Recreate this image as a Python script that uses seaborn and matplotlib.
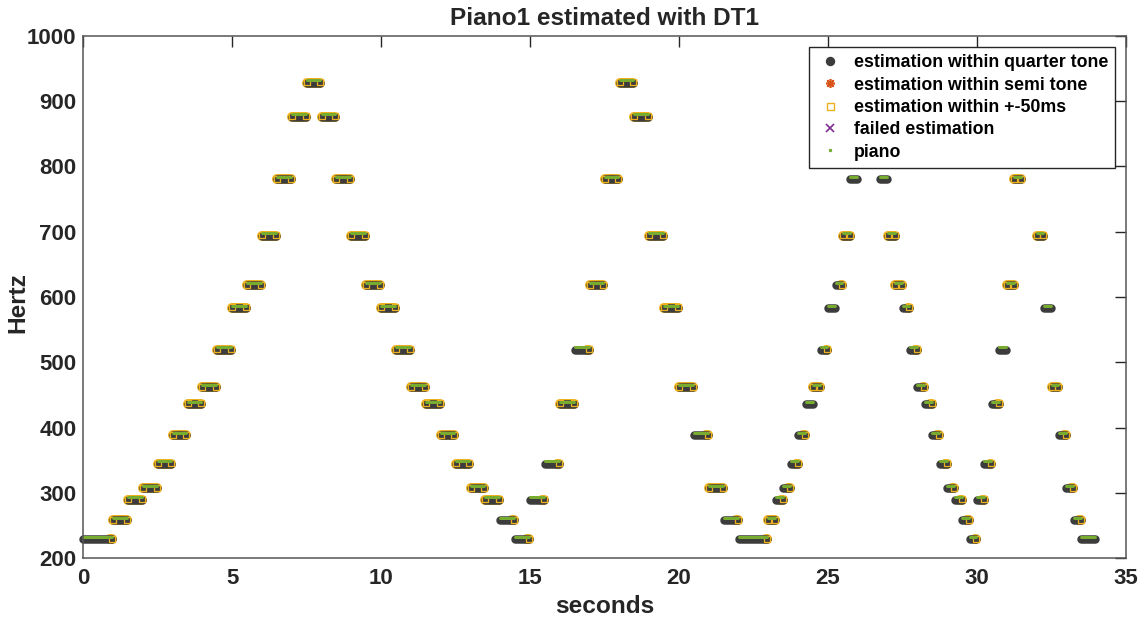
import matplotlib
matplotlib.use("Agg")
import pandas as pd
import matplotlib.pyplot as plt
from matplotlib.lines import Line2D
import seaborn as sns

# --- notes ---
# onset (s), visible length (s), piano pitch (Hz), where the +-50ms squares appear
onsets = [0.0, 1.0, 1.5, 2.0, 2.5, 3.0, 3.5, 4.0, 4.5, 5.0, 5.5, 6.0, 6.5, 7.0, 7.5,
          8.0, 8.5, 9.0, 9.5, 10.0, 10.5, 11.0, 11.5, 12.0, 12.5, 13.0, 13.5, 14.0, 14.5,
          15.0, 15.5, 16.0, 16.5, 17.0, 17.5, 18.0, 18.5, 19.0, 19.5, 20.0, 20.5, 21.0, 21.5,
          22.0,
          23.0, 23.25, 23.5, 23.75, 24.0, 24.25, 24.5, 24.75, 25.0, 25.25, 25.5, 25.75,
          26.75, 27.0, 27.25, 27.5, 27.75, 28.0, 28.25, 28.5, 28.75, 29.0, 29.25, 29.5, 29.75,
          30.0, 30.25, 30.5, 30.75, 31.0, 31.25,
          32.0, 32.25, 32.5, 32.75, 33.0, 33.25, 33.5]
lengths = [0.96] + [0.46] * 43 + [0.23] * 37 + [0.46]
lengths[43] = 0.96
piano_hz = [233, 262, 294, 311, 349, 392, 440, 466, 523, 587, 622, 698, 784, 880, 932,
            880, 784, 698, 622, 587, 523, 466, 440, 392, 349, 311, 294, 262, 233,
            294, 349, 440, 523, 622, 784, 932, 880, 698, 587, 466, 392, 311, 262,
            233,
            262, 294, 311, 349, 392, 440, 466, 523, 587, 622, 698, 784,
            784, 698, 622, 587, 523, 466, 440, 392, 349, 311, 294, 262, 233,
            294, 349, 440, 523, 622, 784,
            698, 587, 466, 392, 311, 262, 233]
window = ["end"] + ["both"] * 26 + ["end", "end",
          "end", "end", "both", "end", "both", "both", "both", "both", "both", "both", "both", "end", "both", "end",
          "end",
          "both", "end", "end", "end", "end", "none", "both", "end", "none", "end", "both", "none",
          "none", "both", "both", "end", "end", "end", "end", "end", "end", "end", "end", "end", "end",
          "end", "end", "end", "none", "both", "both",
          "both", "none", "both", "end", "end", "end", "none"]
est_offset_hz = -4.0  # estimates sit a few Hz under the piano line

legend_labels = ["estimation within quarter tone", "estimation within semi tone",
                 "estimation within +-50ms", "failed estimation", "piano"]

GRAY = "#3c3c3c"
ORANGE = "#EDB120"
RED = "#D95319"
PURPLE = "#7E2F8E"
GREEN = "#77AC30"
INK = "#262626"

rows = []
for i, (t0, d, hz, w) in enumerate(zip(onsets, lengths, piano_hz, window)):
    rows.append(dict(note=i, t=t0, hz=hz, est=hz + est_offset_hz, window=w, edge="start"))
    rows.append(dict(note=i, t=t0 + d, hz=hz, est=hz + est_offset_hz, window=w, edge="end"))
df = pd.DataFrame(rows)

sns.set_theme(style="white")
plt.rcParams["font.family"] = ["Liberation Sans", "DejaVu Sans"]
plt.rcParams["font.weight"] = "bold"

fig = plt.figure(figsize=(11.42, 6.18), dpi=100)
ax = fig.add_axes([0.0729, 0.0966, 0.9131, 0.8456])

px = 0.72  # points per pixel at 100 dpi

# orange rim from the +-50ms squares
both = df[df["window"] == "both"]
sns.lineplot(data=both, x="t", y="est", units="note", estimator=None, sort=False,
             color=ORANGE, linewidth=10 * px, solid_capstyle="round", legend=False,
             ax=ax, zorder=2, clip_on=False)
tail = df[df["window"] == "end"].copy()
tail_start = tail[tail["edge"] == "end"].copy()
tail_start["t"] = tail_start["t"] - 0.06
tail = pd.concat([tail_start, tail[tail["edge"] == "end"]])
sns.lineplot(data=tail, x="t", y="est", units="note", estimator=None, sort=False,
             color=ORANGE, linewidth=10 * px, solid_capstyle="round", legend=False,
             ax=ax, zorder=2, clip_on=False)

# estimates within a quarter tone
sns.lineplot(data=df, x="t", y="est", units="note", estimator=None, sort=False,
             color=GRAY, linewidth=8.5 * px, solid_capstyle="round", legend=False,
             ax=ax, zorder=3, clip_on=False)

# square markers at the note edges
sq = pd.concat([both, df[(df["window"] == "end") & (df["edge"] == "end")]])
ax.scatter(sq["t"], sq["est"] + 1, marker="s", s=(6 * px) ** 2, facecolors="none",
           edgecolors=ORANGE, linewidths=0.9, zorder=4, clip_on=False)

# piano ground truth
sns.lineplot(data=df, x="t", y="hz", units="note", estimator=None, sort=False,
             color=GREEN, linewidth=3 * px, solid_capstyle="round", legend=False,
             ax=ax, zorder=5, clip_on=False)

ax.set_xlim(0, 35)
ax.set_ylim(200, 1000)
ax.set_xticks(range(0, 36, 5))
ax.set_yticks(range(200, 1001, 100))
ax.tick_params(direction="in", length=8, width=1, colors=INK, labelsize=16,
               top=True, right=True, pad=7)
ax.tick_params(axis="y", pad=5)
for lab in ax.get_xticklabels() + ax.get_yticklabels():
    lab.set_fontweight("bold")
for s in ax.spines.values():
    s.set_color("#555555")
    s.set_linewidth(1.1)
    s.set_zorder(6)

ax.set_xlabel("seconds", fontsize=17.6, fontweight="bold", color=INK, labelpad=4)
ax.set_ylabel("Hertz", fontsize=17.6, fontweight="bold", color=INK)
ax.yaxis.set_label_coords(-0.052, 0.49)
ax.set_title("Piano1 estimated with DT1", fontsize=17.6, fontweight="bold", color=INK, pad=8)

handles = [
    Line2D([], [], ls="none", marker="o", ms=8 * px, mfc=GRAY, mec=GRAY),
    Line2D([], [], ls="none", marker=(8, 2, 0), ms=9 * px, mec=RED, mew=1.2),
    Line2D([], [], ls="none", marker="s", ms=7 * px, mfc="none", mec=ORANGE, mew=1),
    Line2D([], [], ls="none", marker="x", ms=8 * px, mec=PURPLE, mew=1.2),
    Line2D([], [], ls="none", marker=".", ms=3, mfc=GREEN, mec=GREEN),
]
leg = ax.legend(handles, legend_labels, loc="upper right", bbox_to_anchor=(0.9895, 0.978),
                borderaxespad=0, frameon=True, fancybox=False, framealpha=1,
                prop=dict(family=["Liberation Sans"], weight="bold", size=12.8),
                handlelength=1.5, handletextpad=0.6, labelspacing=0.3,
                borderpad=0.4, edgecolor=INK)
leg.get_frame().set_linewidth(1.0)
leg.set_zorder(7)
for t in leg.get_texts():
    t.set_color("black")

fig.savefig("out.png", dpi=100)
